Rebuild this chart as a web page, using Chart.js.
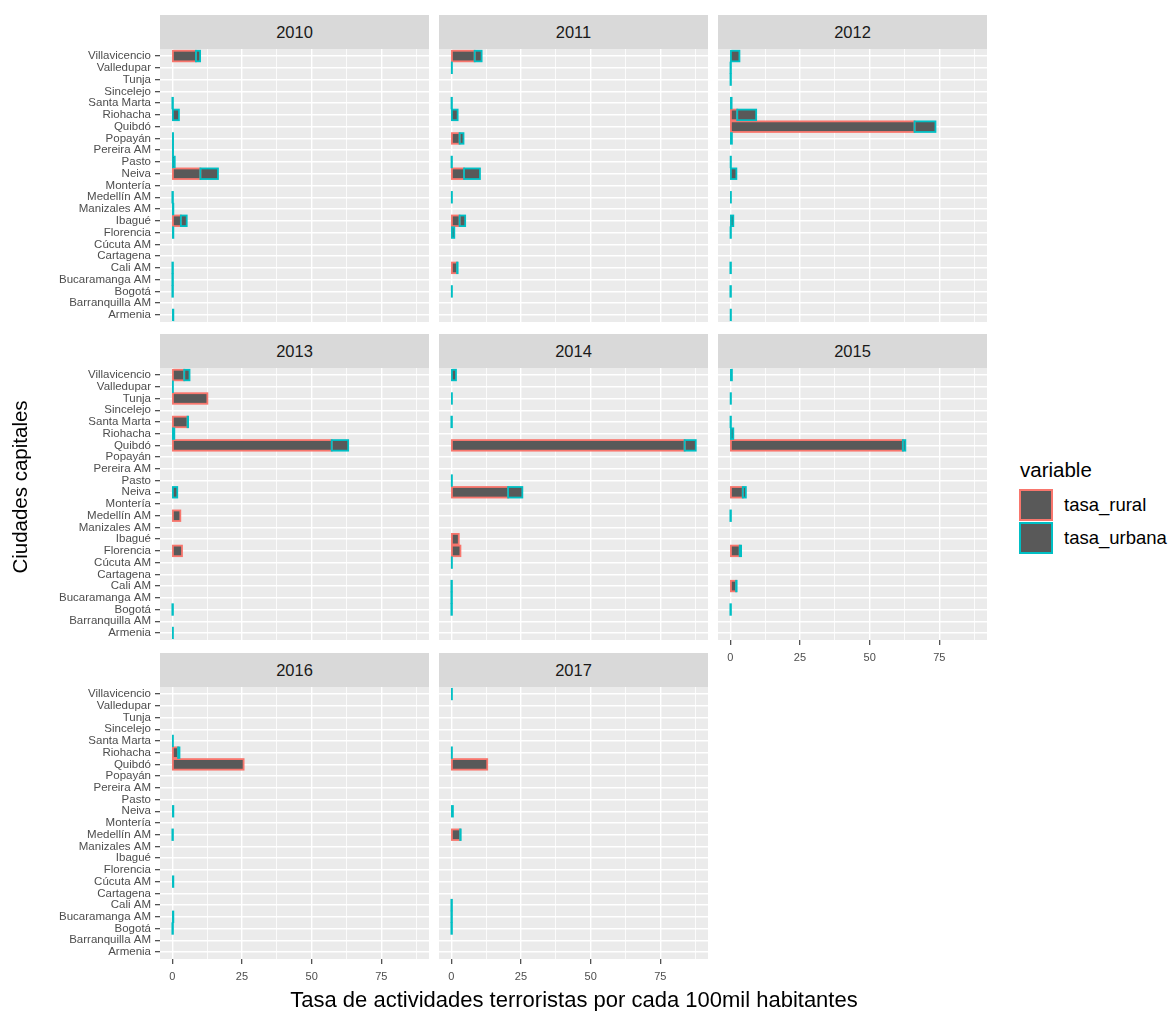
<!DOCTYPE html>
<html><head><meta charset="utf-8">
<script src="https://cdn.jsdelivr.net/npm/chart.js@4/dist/chart.umd.min.js"></script>
<style>
html,body{margin:0;padding:0;background:#fff;}
#wrap{position:relative;width:1170px;height:1011px;overflow:hidden;font-family:"Liberation Sans",Arial,sans-serif;background:#fff;}
#wrap canvas{position:absolute;}
.strip{position:absolute;background:#D9D9D9;color:#1A1A1A;font-size:16.5px;text-align:center;height:34px;line-height:34px;}
.txt{position:absolute;white-space:nowrap;}
.key{position:absolute;box-sizing:border-box;background:#595959;}
</style></head><body><div id="wrap"></div>
<script>
const cities = ["Villavicencio","Valledupar","Tunja","Sincelejo","Santa Marta","Riohacha","Quibdó","Popayán","Pereira AM","Pasto","Neiva","Montería","Medellín AM","Manizales AM","Ibagué","Florencia","Cúcuta AM","Cartagena","Cali AM","Bucaramanga AM","Bogotá","Barranquilla AM","Armenia"];
const years = ["2010","2011","2012","2013","2014","2015","2016","2017"];
const seriesNames = ["tasa_rural","tasa_urbana"];
const xTickValues = [0, 25, 50, 75];
const xMinorValues = [12.5, 37.5, 62.5, 87.5];
const n = null;
const rural2010  = [8.5, n, n, n, n, n, n, n, n, n, 10.1, n, n, n, 3.1, n, n, n, n, n, n, n, n];
const urbana2010 = [1.5, n, n, n, 0.05, 2.4, n, 0.3, 0.3, 0.9, 6.3, n, 0.05, 0.4, 2.1, 0.4, n, n, 0.05, 0.05, 0.05, n, 0.4];
const rural2011  = [8.4, n, n, n, n, n, n, 3.0, n, n, 4.6, n, n, n, 3.0, n, n, n, 2.1, n, n, n, n];
const urbana2011 = [2.5, 0.2, n, n, 0.1, 2.3, n, 1.4, n, 0.1, 5.7, n, 0.2, n, 2.0, 1.1, n, n, 0.2, n, 0.2, n, n];
const rural2012  = [n, n, n, n, n, 2.5, 66.1, n, n, n, n, n, n, n, n, n, n, n, n, n, n, n, n];
const urbana2012 = [3.3, 0.1, 0.1, n, 0.5, 6.8, 7.5, 0.6, n, 0.15, 2.2, n, 0.25, n, 1.1, 0.1, n, n, 0.05, n, 0.05, n, 0.15];
const rural2013  = [4.3, n, 12.6, n, 5.5, n, 57.2, n, n, n, n, n, 2.9, n, n, 3.5, n, n, n, n, n, n, n];
const urbana2013 = [1.9, 0.25, n, n, 0.2, 0.75, 5.9, n, n, n, 1.8, n, n, n, n, n, n, n, n, n, 0.05, n, 0.25];
const rural2014  = [n, n, n, n, n, n, 83.7, n, n, n, 20.4, n, n, n, 2.7, 3.3, n, n, n, n, n, n, n];
const urbana2014 = [1.7, n, 0.25, n, 0.05, n, 4.0, n, n, 0.2, 5.1, n, n, n, n, n, 0.2, n, 0.05, 0.05, 0.05, n, n];
const rural2015  = [n, n, n, n, n, n, 61.9, n, n, n, 4.5, n, n, n, n, 3.4, n, n, 2.1, n, n, n, n];
const urbana2015 = [0.6, n, 0.15, n, 0.1, 1.1, 0.9, n, n, n, 1.1, n, 0.05, n, n, 0.5, n, n, 0.2, n, 0.05, n, n];
const rural2016  = [n, n, n, n, n, 2.1, 25.6, n, n, n, n, n, n, n, n, n, n, n, n, n, n, n, n];
const urbana2016 = [n, n, n, n, 0.25, 0.5, n, n, n, n, 0.4, n, 0.05, n, n, n, 0.4, n, n, 0.4, 0.05, n, n];
const rural2017  = [n, n, n, n, n, n, 12.9, n, n, n, n, n, 3.2, n, n, n, n, n, n, n, n, n, n];
const urbana2017 = [0.25, n, n, n, n, 0.2, n, n, n, n, 0.6, n, 0.2, n, n, n, n, n, 0.05, 0.05, 0.05, n, n];

const ruralByYear = [rural2010, rural2011, rural2012, rural2013, rural2014, rural2015, rural2016, rural2017];
const urbanaByYear = [urbana2010, urbana2011, urbana2012, urbana2013, urbana2014, urbana2015, urbana2016, urbana2017];

// ---- layout / style ----
const FONT = '"Liberation Sans", Arial, sans-serif';
const FILL = '#595959';
const OUTLINES = ['#F8766D', '#00BFC4'];
const colLeft = [160, 439, 718];
const rowTop = [49, 368, 687];
const rowH = [273, 272, 272];
const PANEL_W = 269;
const grid = [[0,0],[1,0],[2,0],[0,1],[1,1],[2,1],[0,2],[1,2]]; // col,row per year
const bottomPanels = [5, 6, 7];

let M = 0;
ruralByYear.forEach((r, k) => r.forEach((v, i) => { M = Math.max(M, (v || 0) + (urbanaByYear[k][i] || 0)); }));
const xMin = -0.05 * M, xMax = 1.05 * M;

const wrap = document.getElementById('wrap');
function addDiv(cls, css, text) {
  const d = document.createElement('div'); d.className = cls;
  Object.assign(d.style, css); if (text != null) d.textContent = text;
  wrap.appendChild(d); return d;
}

const bgPlugin = {
  id: 'panelBg',
  beforeDraw(chart) {
    const a = chart.chartArea, c = chart.ctx;
    c.save(); c.fillStyle = '#EBEBEB'; c.fillRect(a.left, a.top, a.right - a.left, a.bottom - a.top); c.restore();
  }
};
const outlinePlugin = {
  id: 'outline',
  afterDatasetsDraw(chart) {
    const c = chart.ctx;
    c.save();
    c.lineWidth = 1.8;
    chart.data.datasets.forEach((ds, di) => {
      const meta = chart.getDatasetMeta(di);
      c.strokeStyle = ds.outlineColor;
      meta.data.forEach(el => {
        const p = el.getProps(['x', 'y', 'base', 'height'], true);
        const l = Math.min(p.x, p.base), w = Math.abs(p.x - p.base);
        c.strokeRect(l, p.y - p.height / 2, w, p.height);
      });
    });
    c.restore();
  }
};

function toPoints(arr) {
  const out = [];
  arr.forEach((v, i) => { if (v != null) out.push({x: v, y: i}); });
  return out;
}
const isMajor = v => xTickValues.includes(v);

years.forEach((yr, k) => {
  const [col, row] = grid[k];
  const showY = col === 0;
  const showX = bottomPanels.includes(k);
  const yW = showY ? 160 : 0;
  const xH = showX ? 30 : 0;
  const left = colLeft[col], top = rowTop[row], h = rowH[row];

  addDiv('strip', {left: left + 'px', top: (top - 34) + 'px', width: PANEL_W + 'px'}, yr);

  const cv = document.createElement('canvas');
  cv.width = yW + PANEL_W; cv.height = h + xH;
  cv.style.left = (left - yW) + 'px'; cv.style.top = top + 'px';
  cv.style.width = cv.width + 'px'; cv.style.height = cv.height + 'px';
  wrap.appendChild(cv);

  new Chart(cv, {
    type: 'bar',
    data: {
      datasets: [
        {label: seriesNames[0], data: toPoints(ruralByYear[k]), backgroundColor: FILL, borderWidth: 0, outlineColor: OUTLINES[0]},
        {label: seriesNames[1], data: toPoints(urbanaByYear[k]), backgroundColor: FILL, borderWidth: 0, outlineColor: OUTLINES[1]}
      ]
    },
    options: {
      indexAxis: 'y',
      responsive: false,
      animation: false,
      devicePixelRatio: 1,
      events: [],
      layout: {padding: 0},
      datasets: {bar: {barPercentage: 0.9, categoryPercentage: 1.0}},
      plugins: {legend: {display: false}, tooltip: {enabled: false}, title: {display: false}},
      scales: {
        x: {
          type: 'linear', min: xMin, max: xMax, bounds: 'data', stacked: true, offset: false,
          afterBuildTicks: s => { s.ticks = xTickValues.concat(xMinorValues).sort((a, b) => a - b).map(v => ({value: v})); },
          afterFit: s => { s.height = xH; s.paddingLeft = 0; s.paddingRight = 0; },
          border: {display: false},
          grid: {
            offset: false,
            color: '#FFFFFF',
            lineWidth: c => (c.tick && isMajor(c.tick.value)) ? 1.4 : 0.8,
            drawTicks: showX, tickLength: 5,
            tickColor: c => (c.tick && isMajor(c.tick.value)) ? '#333333' : 'rgba(0,0,0,0)',
            tickWidth: 1.1
          },
          ticks: {
            display: showX, autoSkip: false, maxRotation: 0, padding: 6,
            color: '#4D4D4D', font: {family: FONT, size: 11},
            callback: v => isMajor(v) ? String(v) : ''
          }
        },
        y: {
          type: 'linear', min: -0.6, max: cities.length - 0.4, bounds: 'data', reverse: true, stacked: true, offset: false,
          afterBuildTicks: s => { s.ticks = cities.map((c, i) => ({value: i})); },
          afterFit: s => { s.width = yW; s.paddingTop = 0; s.paddingBottom = 0; },
          border: {display: false},
          grid: {offset: false, color: '#FFFFFF', lineWidth: 1.4, drawTicks: showY, tickLength: 5, tickColor: '#333333', tickWidth: 1.1},
          ticks: {
            display: showY, autoSkip: false, padding: 4,
            color: '#4D4D4D', font: {family: FONT, size: 11.5},
            callback: v => cities[v]
          }
        }
      }
    },
    plugins: [bgPlugin, outlinePlugin]
  });
});

// axis titles
addDiv('txt', {left: (574 - 350) + 'px', width: '700px', top: '987px', height: '26px', lineHeight: '26px', textAlign: 'center', fontSize: '22px', color: '#000'},
  'Tasa de actividades terroristas por cada 100mil habitantes');
addDiv('txt', {left: (20 - 150) + 'px', width: '300px', top: (487 - 13) + 'px', height: '26px', lineHeight: '26px', textAlign: 'center', fontSize: '20.5px', color: '#000', transform: 'rotate(-90deg)'},
  'Ciudades capitales');

// legend
addDiv('txt', {left: '1020px', top: '457px', height: '26px', lineHeight: '26px', fontSize: '20.5px', color: '#000'}, 'variable');
seriesNames.forEach((s, i) => {
  const ky = 489 + i * 33;
  addDiv('key', {left: '1019px', top: ky + 'px', width: '34px', height: '32px', border: '2px solid ' + OUTLINES[i]});
  addDiv('txt', {left: '1064px', top: (ky + 4) + 'px', height: '24px', lineHeight: '24px', fontSize: '18.5px', color: '#000'}, s);
});
</script>
</body></html>
